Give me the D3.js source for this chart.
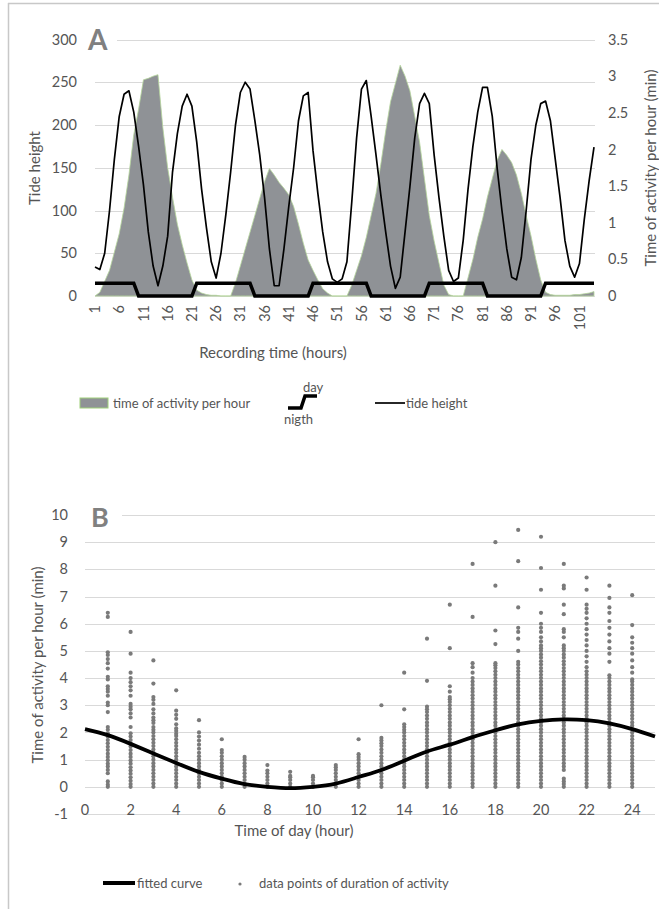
<!DOCTYPE html>
<html>
<head>
<meta charset="utf-8">
<script src="https://cdn.jsdelivr.net/npm/d3@7"></script>
<style>
  html, body { margin: 0; padding: 0; background: #fff; }
  svg { display: block; }
  text { font-family: Lato, "Open Sans", sans-serif; fill: #555; }
</style>
</head>
<body>
<svg id="chart" width="659" height="909"></svg>
<script>
// ── Data: panel A ──────────────────────────────────────────
const recordHours = d3.range(1, 105);
const tideHeight = [
  34, 31, 50, 100, 160, 210, 236, 240, 215, 175,
  130, 75, 35, 12, 35, 70, 145, 190, 222, 236,
  222, 180, 125, 80, 40, 21, 50, 95, 145, 200,
  238, 250, 242, 205, 165, 115, 55, 12, 12, 55,
  105, 150, 205, 234, 238, 170, 120, 75, 40, 20,
  16, 20, 40, 110, 185, 242, 252, 210, 165, 118,
  75, 35, 9, 22, 75, 128, 185, 225, 237, 225,
  165, 115, 70, 30, 17, 21, 65, 125, 175, 215,
  244, 244, 210, 150, 100, 55, 22, 19, 45, 100,
  160, 200, 225, 228, 205, 160, 115, 65, 35, 22,
  38, 90, 135, 174
];
const activityPerHour = [
  0, 0.05, 0.2, 0.35, 0.6, 0.85, 1.2, 1.65, 2.2, 2.55,
  2.95, 2.97, 3.0, 3.02, 2.3, 1.75, 1.35, 0.98, 0.7, 0.45,
  0.22, 0.08, 0.04, 0.02, 0.01, 0.01, 0, 0, 0, 0.18,
  0.41, 0.64, 0.87, 1.1, 1.33, 1.56, 1.74, 1.65, 1.55, 1.47,
  1.38, 1.22, 0.98, 0.72, 0.49, 0.35, 0.22, 0.1, 0.04, 0,
  0, 0, 0, 0.15, 0.35, 0.55, 0.8, 1.1, 1.4, 1.8,
  2.25, 2.65, 2.9, 3.15, 3.0, 2.8, 2.45, 2.1, 1.6, 1.1,
  0.75, 0.45, 0.15, 0.02, 0, 0, 0, 0.25, 0.5, 0.8,
  1.05, 1.35, 1.6, 1.85, 2.0, 1.92, 1.82, 1.65, 1.4, 1.1,
  0.82, 0.5, 0.22, 0.05, 0.02, 0.01, 0.01, 0.01, 0.01, 0.02,
  0.02, 0.03, 0.04, 0.06
];
// 1 = day, 0 = night
const isDay = [
  1, 1, 1, 1, 1, 1, 1, 1, 1, 0, 0, 0, 0, 0, 0, 0, 0, 0, 0, 0,
  0, 1, 1, 1, 1, 1, 1, 1, 1, 1, 1, 1, 1, 0, 0, 0, 0, 0, 0, 0,
  0, 0, 0, 0, 0, 1, 1, 1, 1, 1, 1, 1, 1, 1, 1, 1, 1, 0, 0, 0,
  0, 0, 0, 0, 0, 0, 0, 0, 0, 1, 1, 1, 1, 1, 1, 1, 1, 1, 1, 1,
  1, 0, 0, 0, 0, 0, 0, 0, 0, 0, 0, 0, 0, 1, 1, 1, 1, 1, 1, 1,
  1, 1, 1, 1
];
const dayLevel = 15; // on the tide axis
const tideTicks = [0, 50, 100, 150, 200, 250, 300];
const activityTicks = [0, 0.5, 1, 1.5, 2, 2.5, 3, 3.5];
const hourLabels = d3.range(1, 105, 5);

// ── Data: panel B ──────────────────────────────────────────
const curveHours = d3.range(0, 26);
const curveValues = [
  2.12, 1.9, 1.58, 1.23, 0.88, 0.55, 0.3, 0.1, 0.0, -0.05,
  0.0, 0.12, 0.36, 0.62, 0.96, 1.3, 1.55, 1.83, 2.08, 2.3,
  2.43, 2.48, 2.45, 2.33, 2.12, 1.85
];
const scatterHours = d3.range(1, 25);
const scatterValues = [
  [0, 0.08, 0.2, 0.5, 0.62, 0.75, 0.85, 0.98, 1.1, 1.22, 1.35, 1.47, 1.6, 1.72, 1.85, 1.97, 2.1, 2.2, 2.75, 3.0, 3.1, 3.35, 3.5, 3.6, 3.7, 3.95, 4.05, 4.35, 4.55, 4.7, 4.85, 4.95, 6.25, 6.4],
  [0, 0.1, 0.22, 0.35, 0.48, 0.6, 0.72, 0.85, 0.97, 1.1, 1.22, 1.35, 1.48, 1.6, 1.72, 1.85, 1.97, 2.2, 2.55, 2.7, 2.85, 2.95, 3.05, 3.35, 3.55, 3.7, 3.85, 4.0, 4.2, 4.9, 5.7],
  [0, 0.12, 0.25, 0.37, 0.5, 0.62, 0.75, 0.87, 1.0, 1.12, 1.25, 1.37, 1.5, 1.62, 1.75, 1.87, 2.0, 2.1, 2.2, 2.35, 2.45, 2.55, 2.7, 2.85, 3.05, 3.2, 3.3, 3.8, 4.65],
  [0, 0.12, 0.25, 0.37, 0.5, 0.62, 0.75, 0.87, 1.0, 1.12, 1.25, 1.37, 1.5, 1.62, 1.75, 1.87, 1.95, 2.05, 2.15, 2.3, 2.5, 2.65, 2.8, 3.55],
  [0, 0.12, 0.25, 0.37, 0.5, 0.62, 0.75, 0.87, 1.0, 1.12, 1.25, 1.4, 1.55, 1.7, 1.85, 2.0, 2.45],
  [0, 0.12, 0.25, 0.37, 0.5, 0.62, 0.75, 0.87, 1.0, 1.12, 1.25, 1.35, 1.75],
  [0, 0.12, 0.25, 0.37, 0.5, 0.62, 0.75, 0.87, 1.0, 1.1],
  [0, 0.12, 0.25, 0.37, 0.5, 0.6, 0.8],
  [0, 0.12, 0.25, 0.35, 0.4, 0.55],
  [0, 0.12, 0.25, 0.35, 0.4],
  [0, 0.12, 0.25, 0.37, 0.5, 0.62, 0.72, 0.8],
  [0, 0.12, 0.25, 0.37, 0.5, 0.62, 0.75, 0.87, 1.0, 1.1, 1.2, 1.75],
  [0, 0.12, 0.25, 0.37, 0.5, 0.62, 0.75, 0.87, 1.0, 1.12, 1.25, 1.37, 1.5, 1.6, 1.7, 1.8, 3.0],
  [0, 0.12, 0.25, 0.37, 0.5, 0.62, 0.75, 0.87, 1.0, 1.12, 1.25, 1.37, 1.5, 1.62, 1.75, 1.87, 2.0, 2.1, 2.2, 2.3, 2.85, 4.2],
  [0, 0.12, 0.25, 0.37, 0.5, 0.62, 0.75, 0.87, 1.0, 1.12, 1.25, 1.37, 1.5, 1.62, 1.75, 1.87, 2.0, 2.12, 2.25, 2.37, 2.5, 2.62, 2.75, 2.85, 2.95, 3.9, 5.45],
  [0, 0.12, 0.25, 0.37, 0.5, 0.62, 0.75, 0.87, 1.0, 1.12, 1.25, 1.37, 1.5, 1.62, 1.75, 1.87, 2.0, 2.12, 2.25, 2.37, 2.5, 2.62, 2.75, 2.87, 3.0, 3.12, 3.22, 3.3, 3.5, 3.7, 5.1, 6.7],
  [0, 0.12, 0.25, 0.37, 0.5, 0.62, 0.75, 0.87, 1.0, 1.12, 1.25, 1.37, 1.5, 1.62, 1.75, 1.87, 2.0, 2.12, 2.25, 2.37, 2.5, 2.62, 2.75, 2.87, 3.0, 3.12, 3.25, 3.37, 3.5, 3.62, 3.75, 3.87, 4.0, 4.2, 4.4, 4.55, 6.25, 8.2],
  [0, 0.12, 0.25, 0.37, 0.5, 0.62, 0.75, 0.87, 1.0, 1.12, 1.25, 1.37, 1.5, 1.62, 1.75, 1.87, 2.0, 2.12, 2.25, 2.37, 2.5, 2.62, 2.75, 2.87, 3.0, 3.12, 3.25, 3.37, 3.5, 3.62, 3.75, 3.87, 4.0, 4.12, 4.25, 4.37, 4.47, 4.55, 5.25, 5.75, 7.4, 9.0],
  [0, 0.12, 0.25, 0.37, 0.5, 0.62, 0.75, 0.87, 1.0, 1.12, 1.25, 1.37, 1.5, 1.62, 1.75, 1.87, 2.0, 2.12, 2.25, 2.37, 2.5, 2.62, 2.75, 2.87, 3.0, 3.12, 3.25, 3.37, 3.5, 3.62, 3.75, 3.87, 4.0, 4.12, 4.25, 4.37, 4.5, 4.6, 5.0, 5.45, 5.7, 5.85, 6.6, 8.3, 9.45],
  [0, 0.12, 0.25, 0.37, 0.5, 0.62, 0.75, 0.87, 1.0, 1.12, 1.25, 1.37, 1.5, 1.62, 1.75, 1.87, 2.0, 2.12, 2.25, 2.37, 2.5, 2.62, 2.75, 2.87, 3.0, 3.12, 3.25, 3.37, 3.5, 3.62, 3.75, 3.87, 4.0, 4.12, 4.25, 4.37, 4.5, 4.62, 4.75, 4.87, 5.0, 5.1, 5.2, 5.35, 5.5, 5.7, 5.85, 6.0, 6.4, 7.25, 8.05, 9.2],
  [0, 0.1, 0.2, 0.3, 0.62, 0.75, 0.87, 1.0, 1.12, 1.25, 1.37, 1.5, 1.62, 1.75, 1.87, 2.0, 2.12, 2.25, 2.37, 2.5, 2.62, 2.75, 2.87, 3.0, 3.12, 3.25, 3.37, 3.5, 3.62, 3.75, 3.87, 4.0, 4.12, 4.25, 4.37, 4.5, 4.62, 4.75, 4.87, 5.0, 5.1, 5.2, 5.5, 5.7, 5.8, 6.35, 6.7, 7.3, 7.4, 8.2],
  [0, 0.12, 0.25, 0.37, 0.5, 0.62, 0.75, 0.87, 1.0, 1.12, 1.25, 1.37, 1.5, 1.62, 1.75, 1.87, 2.0, 2.12, 2.25, 2.37, 2.5, 2.62, 2.75, 2.87, 3.0, 3.12, 3.25, 3.37, 3.5, 3.62, 3.75, 3.87, 4.0, 4.12, 4.25, 4.4, 4.6, 4.8, 5.0, 5.2, 5.4, 5.6, 5.8, 6.0, 6.2, 6.4, 6.55, 6.7, 7.25, 7.7],
  [0, 0.12, 0.25, 0.37, 0.5, 0.62, 0.75, 0.87, 1.0, 1.12, 1.25, 1.37, 1.5, 1.62, 1.75, 1.87, 2.0, 2.12, 2.25, 2.37, 2.5, 2.62, 2.75, 2.87, 3.0, 3.12, 3.25, 3.37, 3.5, 3.62, 3.75, 3.87, 4.0, 4.1, 4.6, 4.9, 5.1, 5.35, 5.6, 5.85, 6.1, 6.4, 6.6, 6.95, 7.4],
  [0, 0.12, 0.25, 0.37, 0.5, 0.62, 0.75, 0.87, 1.0, 1.12, 1.25, 1.37, 1.5, 1.62, 1.75, 1.87, 2.0, 2.12, 2.25, 2.37, 2.5, 2.62, 2.75, 2.87, 3.0, 3.12, 3.25, 3.37, 3.5, 3.62, 3.75, 3.87, 3.95, 4.2, 4.4, 4.65, 4.9, 5.1, 5.3, 5.5, 5.95, 7.05]
];
const yTicksB = d3.range(-1, 11);
const xTicksB = d3.range(0, 25, 2);

// ── Setup ──────────────────────────────────────────────────
const svg = d3.select('#chart');
const GRID = '#d9d9d9';
const FS_TICK = 14.5;
const FS_TITLE = 15;
const FS_LEG = 13;

svg.append('rect').attr('width', 659).attr('height', 909).attr('fill', '#fff');
// outer frame (top and left edges visible)
svg.append('line').attr('x1', 8).attr('x2', 659).attr('y1', 3.5).attr('y2', 3.5)
  .attr('stroke', '#c8c8c8').attr('stroke-width', 1.5);
svg.append('line').attr('x1', 8.5).attr('x2', 8.5).attr('y1', 3).attr('y2', 909)
  .attr('stroke', '#c8c8c8').attr('stroke-width', 1.5);

// ── Panel A ────────────────────────────────────────────────
const xA = d3.scalePoint().domain(recordHours).range([95, 594]);
const yTide = d3.scaleLinear().domain([0, 300]).range([296, 39.5]);
const yAct = d3.scaleLinear().domain([0, 3.5]).range([296, 39.5]);

const gA = svg.append('g');

gA.selectAll('.gridA')
  .data(tideTicks)
  .enter().append('line')
  .attr('x1', d => d === 300 ? 117 : 95)
  .attr('x2', 595)
  .attr('y1', d => Math.round(yTide(d)) + 0.5)
  .attr('y2', d => Math.round(yTide(d)) + 0.5)
  .attr('stroke', GRID)
  .attr('stroke-width', 1);

// activity area
gA.append('path')
  .datum(activityPerHour)
  .attr('d', d3.area()
    .x((d, i) => xA(recordHours[i]))
    .y0(yAct(0))
    .y1(d => yAct(d)))
  .attr('fill', '#8f9296')
  .attr('stroke', '#b5d69c')
  .attr('stroke-width', 0.8);

// tide line
gA.append('path')
  .datum(tideHeight)
  .attr('d', d3.line()
    .x((d, i) => xA(recordHours[i]))
    .y(d => yTide(d)))
  .attr('fill', 'none')
  .attr('stroke', '#000')
  .attr('stroke-width', 1.7)
  .attr('stroke-linejoin', 'round');

// day / night line
gA.append('path')
  .datum(isDay)
  .attr('d', d3.line()
    .x((d, i) => xA(recordHours[i]))
    .y(d => yTide(d * dayLevel)))
  .attr('fill', 'none')
  .attr('stroke', '#000')
  .attr('stroke-width', 3.5);

// left axis labels
gA.selectAll('.tickL')
  .data(tideTicks)
  .enter().append('text')
  .attr('x', 77)
  .attr('y', d => yTide(d))
  .attr('dy', '0.35em')
  .attr('text-anchor', 'end')
  .attr('font-size', FS_TICK)
  .text(d => d);

// right axis labels
gA.selectAll('.tickR')
  .data(activityTicks)
  .enter().append('text')
  .attr('x', 608)
  .attr('y', d => yAct(d))
  .attr('dy', '0.35em')
  .attr('font-size', FS_TICK)
  .text(d => d);

// x axis labels (rotated)
gA.selectAll('.tickX')
  .data(hourLabels)
  .enter().append('text')
  .attr('transform', d => `translate(${xA(d)},305) rotate(-90)`)
  .attr('dy', '0.35em')
  .attr('text-anchor', 'end')
  .attr('font-size', FS_TICK)
  .text(d => d);

gA.append('text')
  .attr('x', 88).attr('y', 50)
  .attr('font-family', '"Liberation Sans", Arial, sans-serif')
  .attr('font-weight', 'bold')
  .attr('font-size', 28)
  .style('fill', '#808080')
  .text('A');

gA.append('text')
  .attr('transform', 'translate(35,168) rotate(-90)')
  .attr('dy', '0.35em')
  .attr('text-anchor', 'middle')
  .attr('font-size', FS_TITLE)
  .text('Tide height');

gA.append('text')
  .attr('transform', 'translate(651,168) rotate(-90)')
  .attr('dy', '0.35em')
  .attr('text-anchor', 'middle')
  .attr('font-size', FS_TITLE)
  .text('Time of activity per hour (min)');

gA.append('text')
  .attr('x', 273).attr('y', 353)
  .attr('dy', '0.35em')
  .attr('text-anchor', 'middle')
  .attr('font-size', FS_TITLE)
  .text('Recording time (hours)');

// legend A
const legA = gA.append('g');
legA.append('rect')
  .attr('x', 80).attr('y', 398).attr('width', 28).attr('height', 10)
  .attr('fill', '#8f9296').attr('stroke', '#9fd07a').attr('stroke-width', 1);
legA.append('text')
  .attr('x', 113).attr('y', 403).attr('dy', '0.35em')
  .attr('font-size', FS_LEG)
  .text('time of activity per hour');
legA.append('path')
  .attr('d', 'M288,408 L301,408 L305,396 L317,396')
  .attr('fill', 'none').attr('stroke', '#000').attr('stroke-width', 3.5);
legA.append('text')
  .attr('x', 303).attr('y', 387).attr('dy', '0.35em')
  .attr('font-size', FS_LEG)
  .text('day');
legA.append('text')
  .attr('x', 284).attr('y', 419).attr('dy', '0.35em')
  .attr('font-size', FS_LEG)
  .text('nigth');
legA.append('line')
  .attr('x1', 375).attr('x2', 405).attr('y1', 403).attr('y2', 403)
  .attr('stroke', '#000').attr('stroke-width', 1.7);
legA.append('text')
  .attr('x', 406).attr('y', 403).attr('dy', '0.35em')
  .attr('font-size', FS_LEG)
  .text('tide height');

// ── Panel B ────────────────────────────────────────────────
const xB = d3.scaleLinear().domain([0, 25]).range([85, 655]);
const yB = d3.scaleLinear().domain([-1, 10]).range([814, 515]);

const gB = svg.append('g');

gB.selectAll('.gridB')
  .data(yTicksB)
  .enter().append('line')
  .attr('x1', d => d === 10 ? 122 : 85)
  .attr('x2', 655)
  .attr('y1', d => Math.round(yB(d)) + 0.5)
  .attr('y2', d => Math.round(yB(d)) + 0.5)
  .attr('stroke', GRID)
  .attr('stroke-width', 1);

const points = [];
scatterHours.forEach((h, i) => {
  scatterValues[i].forEach(v => points.push({ h, v }));
});

gB.selectAll('.dot')
  .data(points)
  .enter().append('circle')
  .attr('cx', d => xB(d.h))
  .attr('cy', d => yB(d.v))
  .attr('r', 2.1)
  .attr('fill', '#7a7a7a');

gB.append('path')
  .datum(curveValues)
  .attr('d', d3.line()
    .x((d, i) => xB(curveHours[i]))
    .y(d => yB(d))
    .curve(d3.curveNatural))
  .attr('fill', 'none')
  .attr('stroke', '#000')
  .attr('stroke-width', 3.8);

gB.selectAll('.tickBY')
  .data(yTicksB)
  .enter().append('text')
  .attr('x', 68)
  .attr('y', d => yB(d))
  .attr('dy', '0.35em')
  .attr('text-anchor', 'end')
  .attr('font-size', FS_TICK)
  .text(d => d);

gB.selectAll('.tickBX')
  .data(xTicksB)
  .enter().append('text')
  .attr('x', d => xB(d))
  .attr('y', 810)
  .attr('dy', '0.35em')
  .attr('text-anchor', 'middle')
  .attr('font-size', FS_TICK)
  .text(d => d);

gB.append('text')
  .attr('x', 91).attr('y', 527)
  .attr('font-family', '"Liberation Sans", Arial, sans-serif')
  .attr('font-weight', 'bold')
  .attr('font-size', 27)
  .style('fill', '#808080')
  .text('B');

gB.append('text')
  .attr('transform', 'translate(38,665) rotate(-90)')
  .attr('dy', '0.35em')
  .attr('text-anchor', 'middle')
  .attr('font-size', FS_TITLE)
  .text('Time of activity per hour (min)');

gB.append('text')
  .attr('x', 294).attr('y', 831)
  .attr('dy', '0.35em')
  .attr('text-anchor', 'middle')
  .attr('font-size', FS_TITLE)
  .text('Time of day (hour)');

// legend B
const legB = gB.append('g');
legB.append('line')
  .attr('x1', 103).attr('x2', 135).attr('y1', 883).attr('y2', 883)
  .attr('stroke', '#000').attr('stroke-width', 4);
legB.append('text')
  .attr('x', 137).attr('y', 883).attr('dy', '0.35em')
  .attr('font-size', FS_LEG)
  .text('fitted curve');
legB.append('circle')
  .attr('cx', 240).attr('cy', 884).attr('r', 1.6)
  .attr('fill', '#7a7a7a');
legB.append('text')
  .attr('x', 259).attr('y', 883).attr('dy', '0.35em')
  .attr('font-size', FS_LEG)
  .text('data points of duration of activity');
</script>
</body>
</html>
